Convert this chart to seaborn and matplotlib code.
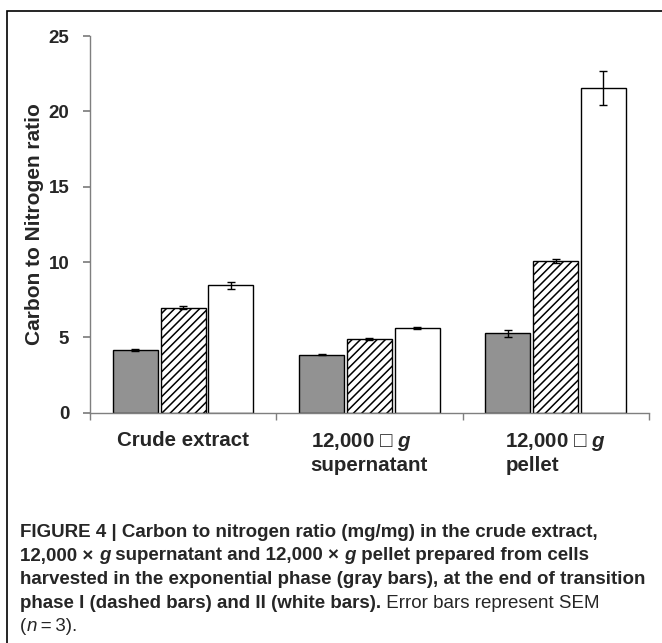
import numpy as np
import pandas as pd
import matplotlib
matplotlib.use("Agg")
import matplotlib.pyplot as plt
import matplotlib.patches as mpatches
import seaborn as sns

# data
fractions = ["Crude extract", "12,000 □ $g$\nsupernatant", "12,000 □ $g$\npellet"]
phases = ["exponential", "transition I", "transition II"]
ratio_exp = [4.17, 3.86, 5.27]
ratio_tr1 = [6.97, 4.90, 10.08]
ratio_tr2 = [8.45, 5.63, 21.55]
sem_exp = [0.07, 0.03, 0.25]
sem_tr1 = [0.10, 0.05, 0.12]
sem_tr2 = [0.24, 0.05, 1.15]

sns.set_theme(style="white")
plt.rcParams["font.family"] = ["Liberation Sans", "DejaVu Sans"]
plt.rcParams["mathtext.fontset"] = "custom"
plt.rcParams["mathtext.it"] = "Liberation Sans:bold:italic"
plt.rcParams["hatch.linewidth"] = 1.1

df = pd.DataFrame({
    "fraction": np.repeat(fractions, 3),
    "phase": phases * 3,
    "ratio": [v for trio in zip(ratio_exp, ratio_tr1, ratio_tr2) for v in trio],
})
sems = [sem_exp, sem_tr1, sem_tr2]

fig = plt.figure(figsize=(6.62, 6.43), dpi=100)
ax = fig.add_axes([0.136, 0.358, 0.844, 0.586])

sns.barplot(data=df, x="fraction", y="ratio", hue="phase", order=fractions,
            hue_order=phases, palette=["#929292", "white", "white"],
            width=0.77, gap=0.06, edgecolor="black", linewidth=1.0,
            errorbar=None, legend=False, ax=ax)

bar_groups = list(ax.containers)
for i, cont in enumerate(bar_groups):
    xs = [p.get_x() + p.get_width() / 2 for p in cont.patches]
    hs = [p.get_height() for p in cont.patches]
    if i == 1:
        for p in cont.patches:
            p.set_hatch("////")
    ax.errorbar(xs, hs, yerr=sems[i], fmt="none", ecolor="black",
                elinewidth=1.0, capsize=3, capthick=1.0)

ax.set_ylim(0, 25)
ax.set_yticks([0, 5, 10, 15, 20, 25])
ax.set_xlim(-0.5, 2.5)
ax.set_xlabel("")
ax.set_ylabel("Carbon to Nitrogen ratio", fontsize=15, fontweight="bold", labelpad=3)
for s in ["top", "right"]:
    ax.spines[s].set_visible(False)
for s in ["left", "bottom"]:
    ax.spines[s].set_color("#7f7f7f")
    ax.spines[s].set_linewidth(1.0)

ax.tick_params(axis="y", which="major", direction="out", length=5, color="#7f7f7f",
               left=True, labelsize=13.5, pad=10)
for lab in ax.get_yticklabels():
    lab.set_fontweight("bold")
ax.set_xticks([-0.5, 0.5, 1.5, 2.5], minor=True)
ax.tick_params(axis="x", which="minor", direction="out", length=5, color="#7f7f7f", bottom=True)
ax.tick_params(axis="x", which="major", length=0, labelsize=14.8, pad=13)
for lab in ax.get_xticklabels():
    lab.set_fontweight("bold")
    lab.set_multialignment("left")
    lab.set_verticalalignment("top")

# frame around the figure panel
fig.patches.append(mpatches.Rectangle((7 / 662, -0.2), 1.2, 1.2 - 11 / 643,
                                       transform=fig.transFigure, fill=False,
                                       edgecolor="black", linewidth=1.2))

# caption
cap_font = ["Liberation Sans", "DejaVu Sans"]
bold = dict(family=cap_font, fontsize=13.5, fontweight="bold")
normal = dict(family=cap_font, fontsize=13.5)
boldit = dict(family=cap_font, fontsize=13.5, fontweight="bold", fontstyle="italic")
italic = dict(family=cap_font, fontsize=13.5, fontstyle="italic")

lines = [
    [("FIGURE 4 | Carbon to nitrogen ratio (mg/mg) in the crude extract,", bold)],
    [("12,000 × ", bold), ("g", boldit), (" supernatant and 12,000 × ", bold), ("g", boldit),
     (" pellet prepared from cells", bold)],
    [("harvested in the exponential phase (gray bars), at the end of transition", bold)],
    [("phase I (dashed bars) and II (white bars).", bold), (" Error bars represent SEM", normal)],
    [("(", normal), ("n", italic), ("\u2009=\u20093).", normal)],
]
y0 = 1 - 537 / 643
for k, line in enumerate(lines):
    y = y0 - k * 23.5 / 643
    prev = None
    for txt, kw in line:
        if prev is None:
            prev = fig.text(20 / 662, y, txt, ha="left", va="baseline", **kw)
        else:
            prev = ax.annotate(txt, xy=(1, 0), xycoords=prev, ha="left", va="bottom",
                               annotation_clip=False, **kw)

fig.savefig("out.png", dpi=100)
